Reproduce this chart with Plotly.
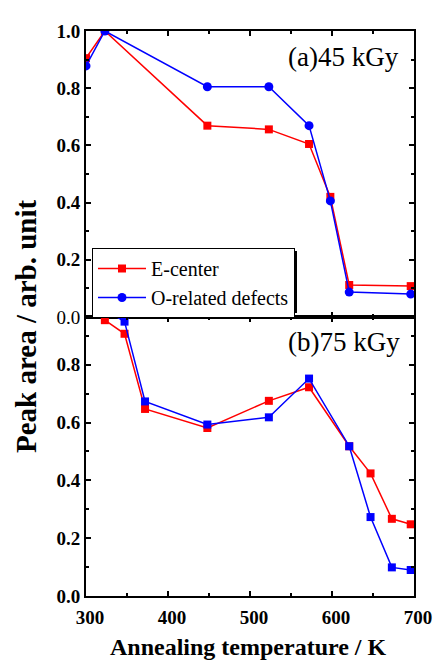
import plotly.graph_objects as go

# Top panel (a) 45 kGy
temp_a = [300, 323, 448, 523, 572, 598, 621, 696]
ecenter_a = [0.905, 1.0, 0.669, 0.656, 0.605, 0.42, 0.112, 0.108]
orel_a = [0.878, 1.0, 0.805, 0.805, 0.669, 0.406, 0.087, 0.08]

# Bottom panel (b) 75 kGy
temp_b = [323, 347, 372, 448, 523, 572, 621, 647, 673, 696]
ecenter_b = [0.954, 0.907, 0.647, 0.581, 0.675, 0.722, 0.518, 0.424, 0.267, 0.248]
orel_b = [0.99, 0.949, 0.673, 0.593, 0.618, 0.752, 0.518, 0.273, 0.099, 0.09]

x_ticks = [300, 400, 500, 600, 700]
ya_ticks = [0.0, 0.2, 0.4, 0.6, 0.8, 1.0]
ya_labels = ["<span style='font-weight:normal'>0.0</span>", "0.2", "0.4", "0.6", "0.8", "1.0"]
yb_ticks = [0.0, 0.2, 0.4, 0.6, 0.8]

RED = "#ff0000"
BLUE = "#0000ff"
W, H = 436, 660

def px(xp):
    return xp / W

def py(yp):
    return 1 - yp / H

fig = go.Figure()
fig.add_trace(go.Scatter(x=temp_a, y=ecenter_a, mode="lines+markers", name="E-center",
                         line=dict(color=RED, width=1.5),
                         marker=dict(symbol="square", size=8, color=RED),
                         xaxis="x", yaxis="y"))
fig.add_trace(go.Scatter(x=temp_a, y=orel_a, mode="lines+markers", name="O-related defects",
                         line=dict(color=BLUE, width=1.5),
                         marker=dict(symbol="circle", size=9, color=BLUE),
                         xaxis="x", yaxis="y"))
fig.add_trace(go.Scatter(x=temp_b, y=ecenter_b, mode="lines+markers", showlegend=False,
                         line=dict(color=RED, width=1.5),
                         marker=dict(symbol="square", size=8, color=RED),
                         xaxis="x2", yaxis="y2"))
fig.add_trace(go.Scatter(x=temp_b, y=orel_b, mode="lines+markers", showlegend=False,
                         line=dict(color=BLUE, width=1.5),
                         marker=dict(symbol="square", size=8, color=BLUE),
                         xaxis="x2", yaxis="y2"))

tickfont = dict(family="Liberation Serif", size=19, color="black", weight="bold")
xdom = [px(86), px(414)]
common_x = dict(range=[300, 700], domain=xdom, showline=True, linecolor="black", linewidth=2,
                mirror="ticks", ticks="inside", ticklen=5, tickwidth=1.5, tickcolor="black",
                tickvals=x_ticks, showgrid=False, zeroline=False, automargin=False,
                minor=dict(ticks="inside", dtick=50, ticklen=3, tickcolor="black", tickwidth=1.5))
common_y = dict(showline=True, linecolor="black", linewidth=2, mirror="ticks", ticks="inside",
                ticklen=5, tickwidth=1.5, tickcolor="black", showgrid=False, zeroline=False,
                tickformat=".1f", tickfont=tickfont, automargin=False,
                minor=dict(ticks="inside", dtick=0.1, ticklen=3, tickcolor="black", tickwidth=1.5))

fig.update_layout(
    width=W, height=H, margin=dict(l=0, r=0, t=0, b=0, autoexpand=False),
    paper_bgcolor="white", plot_bgcolor="white",
    xaxis=dict(common_x, anchor="y", showticklabels=False),
    yaxis=dict(common_y, range=[0, 1.0], domain=[py(317), py(31)], tickvals=ya_ticks,
               ticktext=ya_labels, anchor="x"),
    xaxis2=dict(common_x, anchor="y2", showticklabels=True, tickfont=tickfont,
                ticklabelshift=4, ticklabelstandoff=3),
    yaxis2=dict(common_y, range=[0, 0.965], domain=[py(596), py(317)], tickvals=yb_ticks, anchor="x2"),
    legend=dict(x=px(92), y=py(248), xanchor="left", yanchor="top",
                bgcolor="white", bordercolor="black", borderwidth=1,
                font=dict(family="Liberation Serif", size=20, color="black"),
                itemwidth=48, tracegroupgap=0),
    showlegend=True,
)

# legend drop shadow
fig.add_shape(type="rect", xref="paper", yref="paper",
              x0=px(95), x1=px(297), y0=py(313), y1=py(251),
              fillcolor="black", line=dict(width=0), layer="above")

fig.add_annotation(text="(a)45 kGy", x=px(401), y=py(57), xref="paper", yref="paper",
                   xanchor="right", yanchor="middle", showarrow=False,
                   font=dict(family="Liberation Serif", size=27, color="black"))
fig.add_annotation(text="(b)75 kGy", x=px(402), y=py(342), xref="paper", yref="paper",
                   xanchor="right", yanchor="middle", showarrow=False,
                   font=dict(family="Liberation Serif", size=27, color="black"))
fig.add_annotation(text="Peak area / arb. unit", x=px(26), y=py(326), xref="paper", yref="paper",
                   xanchor="center", yanchor="middle", showarrow=False, textangle=-90,
                   font=dict(family="Liberation Serif", size=29, color="black", weight="bold"))
fig.add_annotation(text="Annealing temperature / K", x=px(248), y=py(647), xref="paper", yref="paper",
                   xanchor="center", yanchor="middle", showarrow=False,
                   font=dict(family="Liberation Serif", size=24, color="black", weight="bold"))

fig.write_html("out.html")
